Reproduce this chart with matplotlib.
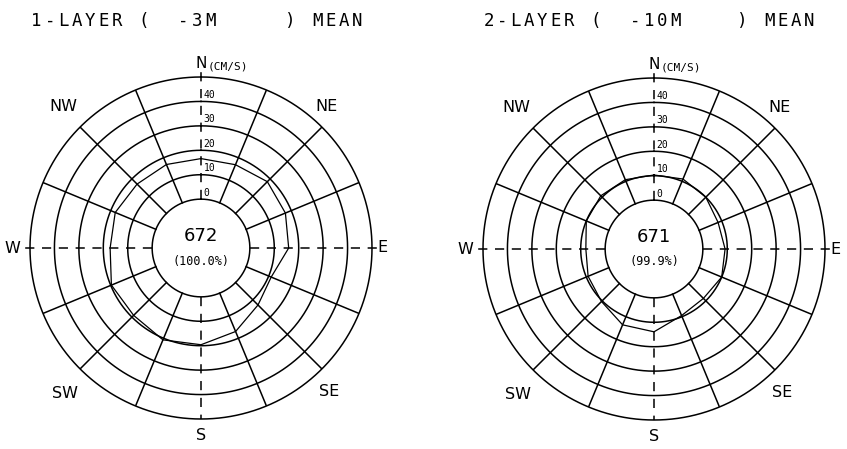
import numpy as np
import matplotlib
matplotlib.use("Agg")
import matplotlib.pyplot as plt
from matplotlib.transforms import ScaledTranslation

# 16 compass directions, clockwise from north
directions = ["N", "NNE", "NE", "ENE", "E", "ESE", "SE", "SSE",
              "S", "SSW", "SW", "WSW", "W", "WNW", "NW", "NNW"]

# mean current speed (cm/s) per direction
speed_layer1 = [16.6, 16.9, 18.4, 17.4, 15.9, 11.1, 13.0, 17.0,
                19.6, 20.7, 19.0, 19.7, 17.2, 18.0, 17.0, 17.0]
speed_layer2 = [10.3, 11.0, 10.0, 8.4, 9.1, 10.0, 8.6, 9.5,
                13.9, 13.6, 10.4, 9.2, 7.9, 10.0, 10.8, 10.7]

titles = ["1-LAYER (  -3M     ) MEAN", "2-LAYER (  -10M    ) MEAN"]
counts = ["672", "671"]
percents = ["(100.0%)", "(99.9%)"]
ring_labels = [0, 10, 20, 30, 40]

# compass labels: (text, angle deg, radius in plot units)
compass = [("NE", 41.6, 77.5), ("NW", 315.9, 80.8), ("SW", 223.1, 81.3),
           ("SE", 138.3, 78.6), ("W", 270, 77.2), ("E", 90, 74.3), ("S", 180, 76.6)]

R0 = 20.0      # radius of the centre circle (speed 0)
ROUT = 70.0    # outer circle (speed 50)

W, H = 847, 449
fig = plt.figure(figsize=(W / 100, H / 100), dpi=100)
fig.patch.set_facecolor("white")
MONO = "DejaVu Sans Mono"


def mono_text(x_px, y_px, s, pitch=13.35, size=12.5):
    # plotter style: one glyph per fixed-width cell
    for i, ch in enumerate(s):
        if ch != " ":
            fig.text((x_px + (i + 0.5) * pitch) / W, 1 - y_px / H, ch, fontsize=size,
                     ha="center", va="center", family=MONO)


def rose(cx, cy, speeds, count, pct):
    rad = 171
    ax = fig.add_axes([(cx - rad) / W, (H - cy - rad) / H, 2 * rad / W, 2 * rad / H],
                      projection="polar")
    ax.set_theta_zero_location("N")
    ax.set_theta_direction(-1)
    ax.set_ylim(0, ROUT)
    ax.set_axis_off()
    lw = 1.1
    t = np.linspace(0, 2 * np.pi, 721)
    for r in [R0, 30, 40, 50, 60, ROUT]:
        ax.plot(t, np.full_like(t, r), color="black", lw=lw, clip_on=False)
    for k in range(16):
        th = np.deg2rad(k * 22.5)
        if k % 4:
            ax.plot([th, th], [R0, ROUT], color="black", lw=lw)
    # dashed main axes
    for deg, rend in [(0, 72), (90, 75), (180, 70), (270, 74)]:
        th = np.deg2rad(deg)
        ax.plot([th, th], [R0, rend], color="black", lw=lw, ls=(0, (6, 5)),
                clip_on=False)
    # data polygon
    ang = np.deg2rad(np.arange(16) * 22.5)
    rr = R0 + np.array(speeds)
    ax.plot(np.append(ang, ang[0]), np.append(rr, rr[0]), color="black", lw=0.9)
    # ring labels along north axis
    for v in ring_labels:
        ax.annotate(str(v), xy=(0, R0 + v), xytext=(2, 1), textcoords="offset points",
                    fontsize=7, ha="left", va="bottom", family=MONO)
    ax.annotate("N", xy=(0, ROUT), xytext=(0, 4), textcoords="offset points",
                fontsize=11, ha="center", va="bottom", annotation_clip=False)
    ax.annotate("(CM/S)", xy=(0, ROUT), xytext=(5, 4), textcoords="offset points",
                fontsize=8, ha="left", va="bottom", annotation_clip=False, family=MONO)
    for lab, deg, r in compass:
        ax.text(np.deg2rad(deg), r, lab, fontsize=11.5, ha="center", va="center",
                clip_on=False)
    ax.text(0, 0, count, fontsize=13, ha="center", va="center",
            transform=ax.transData + ScaledTranslation(0, 12 / 100, fig.dpi_scale_trans))
    ax.text(0, 0, pct, fontsize=8.5, ha="center", va="center", family=MONO,
            transform=ax.transData + ScaledTranslation(0, -13 / 100, fig.dpi_scale_trans))
    return ax


rose(201, 248, speed_layer1, counts[0], percents[0])
rose(654, 249, speed_layer2, counts[1], percents[1])
mono_text(30, 21, titles[0])
mono_text(482, 21, titles[1])

fig.savefig("out.png", dpi=100, facecolor="white")
